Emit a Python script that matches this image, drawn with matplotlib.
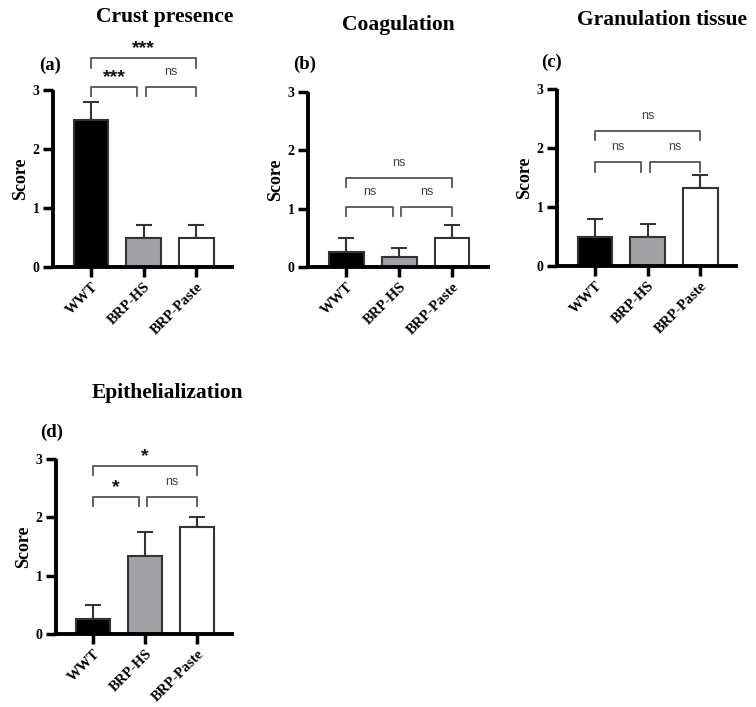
import matplotlib.pyplot as plt
import numpy as np

# groups and scores
groups = ['WWT', 'BRP-HS', 'BRP-Paste']
titles = ['Crust presence', 'Coagulation', 'Granulation tissue', 'Epithelialization']
letters = ['(a)', '(b)', '(c)', '(d)']

crust_mean = [2.5, 0.5, 0.5]
crust_err = [0.29, 0.22, 0.22]
coag_mean = [0.25, 0.167, 0.5]
coag_err = [0.25, 0.167, 0.22]
gran_mean = [0.5, 0.5, 1.33]
gran_err = [0.29, 0.22, 0.21]
epi_mean = [0.25, 1.33, 1.83]
epi_err = [0.25, 0.42, 0.17]

# significance labels: (left pair, right pair, outer)
crust_sig = ['***', 'ns', '***']
coag_sig = ['ns', 'ns', 'ns']
gran_sig = ['ns', 'ns', 'ns']
epi_sig = ['*', 'ns', '*']

means = [crust_mean, coag_mean, gran_mean, epi_mean]
errs = [crust_err, coag_err, gran_err, epi_err]
sigs = [crust_sig, coag_sig, gran_sig, epi_sig]

# bracket heights (lower row, upper row) per panel
bracket_y = [(3.05, 3.54), (1.03, 1.53), (1.76, 2.29), (2.35, 2.88)]

fills = ['black', '#a2a2a6', 'white']
W, H = 756, 707
# axes boxes in pixels: left, top(y=3), right, bottom(y=0)
boxes = [(53, 90, 232, 267), (308, 92, 488, 267), (557, 89, 736, 266), (56, 459, 232, 634)]
# title and letter centres in pixels
title_pos = [(165, 17), (398, 25), (662, 20), (167, 393)]
letter_pos = [(50, 65), (305, 64), (552, 62), (52, 432)]

fig = plt.figure(figsize=(W / 100, H / 100), dpi=100)
serif = 'Liberation Serif'

for k in range(4):
    l, t, r, b = boxes[k]
    ax = fig.add_axes([l / W, 1 - b / H, (r - l) / W, (b - t) / H])
    x = np.arange(3)
    ax.bar(x, means[k], width=0.66, color=fills, edgecolor='#333333', linewidth=1.5, zorder=2)
    ax.errorbar(x, means[k], yerr=[np.zeros(3), errs[k]], fmt='none', ecolor='#333333',
                elinewidth=1.5, capsize=6, capthick=1.5, zorder=1)
    ax.set_xlim(-0.72, 2.68)
    ax.set_ylim(0, 3)
    ax.set_yticks([0, 1, 2, 3])
    ax.set_xticks(x)
    ax.set_xticklabels(groups, rotation=45, ha='right', rotation_mode='anchor',
                       fontfamily=serif, fontweight='bold', fontsize=10.5)
    for lab in ax.get_yticklabels():
        lab.set_fontfamily(serif)
        lab.set_fontweight('bold')
        lab.set_fontsize(10)
    ax.tick_params(axis='both', width=2.5, length=7.5, direction='out', pad=2)
    for s in ['top', 'right']:
        ax.spines[s].set_visible(False)
    for s in ['left', 'bottom']:
        ax.spines[s].set_linewidth(2.8)
    ax.spines['left'].set_capstyle('butt')
    ax.set_ylabel('Score', fontfamily=serif, fontweight='bold', fontsize=13, labelpad=3)

    # title and panel letter
    tx, ty = title_pos[k]
    fig.text(tx / W, 1 - ty / H, titles[k], ha='center', va='center',
             fontfamily=serif, fontweight='bold', fontsize=15.5)
    lx, ly = letter_pos[k]
    fig.text(lx / W, 1 - ly / H, letters[k], ha='center', va='center',
             fontfamily=serif, fontweight='bold', fontsize=13.5)

    # significance brackets
    lo, hi = bracket_y[k]
    leg = 0.16
    pairs = [(0, 0.88, lo), (1.04, 2, lo), (0, 2, hi)]
    for (x0, x1, yb), lab in zip(pairs, sigs[k]):
        ax.plot([x0, x0, x1, x1], [yb - leg, yb, yb, yb - leg], color='#555555', lw=1.3,
                clip_on=False, zorder=3)
        if lab == 'ns':
            ax.text((x0 + x1) / 2, yb + 0.26, lab, ha='center', va='center', color='#444444',
                    fontsize=9, fontfamily='Liberation Sans', clip_on=False)
        else:
            ax.text((x0 + x1) / 2, yb + 0.16, lab, ha='center', va='center', color='#111111',
                    fontsize=14, fontweight='bold', fontfamily='Liberation Sans', clip_on=False)

fig.savefig('out.png', dpi=100)
